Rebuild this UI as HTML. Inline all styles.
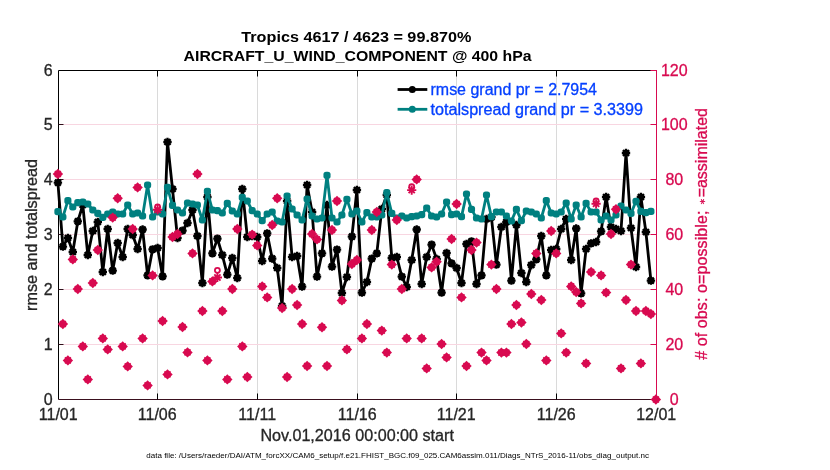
<!DOCTYPE html><html><head><meta charset="utf-8"><title>obs diag</title>
<style>html,body{margin:0;padding:0;background:#fff}svg{display:block}text{font-family:"Liberation Sans",Arial,Helvetica,sans-serif}.t{stroke:#262626;stroke-width:.3}.p{stroke:#d80a50;stroke-width:.3}.b{stroke:#0540ff;stroke-width:.3}</style></head><body>
<svg width="830" height="470" viewBox="0 0 830 470">
<rect width="830" height="470" fill="#fff"/>
<defs>
<g id="bs"><path d="M-4.2 0H4.2M0 -4.2V4.2M-3 -3L3 3M-3 3L3 -3" stroke="#000" stroke-width="2.3" fill="none"/><circle r="3.3" fill="#000"/></g>
<rect id="ts" x="-3.55" y="-3.55" width="7.1" height="7.1" rx="2.7" fill="#008080"/>
<circle id="po" r="2.5" fill="none" stroke="#d80a50" stroke-width="1.8"/>
<path id="px" d="M-4.6 0H4.6M0 -4.6V4.6M-3.1 -3.1L3.1 3.1M-3.1 3.1L3.1 -3.1" stroke="#d80a50" stroke-width="1.9" fill="none"/>
<g id="pd"><path d="M-5.2 0L0 -5.2L5.2 0L0 5.2Z" fill="#d80a50"/><path d="M-3 -3L3 3M-3 3L3 -3" stroke="#d80a50" stroke-width="1.5" fill="none"/></g>
</defs>
<line x1="157.5" y1="70.5" x2="157.5" y2="399.5" stroke="#dadada" stroke-width="1"/>
<line x1="257.5" y1="70.5" x2="257.5" y2="399.5" stroke="#dadada" stroke-width="1"/>
<line x1="357.5" y1="70.5" x2="357.5" y2="399.5" stroke="#dadada" stroke-width="1"/>
<line x1="456.5" y1="70.5" x2="456.5" y2="399.5" stroke="#dadada" stroke-width="1"/>
<line x1="556.5" y1="70.5" x2="556.5" y2="399.5" stroke="#dadada" stroke-width="1"/>
<line x1="58.5" y1="344.5" x2="656.5" y2="344.5" stroke="#f8d6e1" stroke-width="1"/>
<line x1="58.5" y1="289.5" x2="656.5" y2="289.5" stroke="#f8d6e1" stroke-width="1"/>
<line x1="58.5" y1="234.5" x2="656.5" y2="234.5" stroke="#f8d6e1" stroke-width="1"/>
<line x1="58.5" y1="179.5" x2="656.5" y2="179.5" stroke="#f8d6e1" stroke-width="1"/>
<line x1="58.5" y1="124.5" x2="656.5" y2="124.5" stroke="#f8d6e1" stroke-width="1"/>
<path d="M58.5 399.5V70.5H656.5" stroke="#000" stroke-width="1" fill="none"/>
<line x1="58.5" y1="399.5" x2="656.5" y2="399.5" stroke="#3a0f1e" stroke-width="1"/>
<line x1="157.5" y1="399.5" x2="157.5" y2="393.5" stroke="#000"/>
<line x1="157.5" y1="70.5" x2="157.5" y2="76.5" stroke="#000"/>
<line x1="257.5" y1="399.5" x2="257.5" y2="393.5" stroke="#000"/>
<line x1="257.5" y1="70.5" x2="257.5" y2="76.5" stroke="#000"/>
<line x1="357.5" y1="399.5" x2="357.5" y2="393.5" stroke="#000"/>
<line x1="357.5" y1="70.5" x2="357.5" y2="76.5" stroke="#000"/>
<line x1="456.5" y1="399.5" x2="456.5" y2="393.5" stroke="#000"/>
<line x1="456.5" y1="70.5" x2="456.5" y2="76.5" stroke="#000"/>
<line x1="556.5" y1="399.5" x2="556.5" y2="393.5" stroke="#000"/>
<line x1="556.5" y1="70.5" x2="556.5" y2="76.5" stroke="#000"/>
<line x1="58.5" y1="344.5" x2="63.5" y2="344.5" stroke="#30101a"/>
<line x1="58.5" y1="289.5" x2="63.5" y2="289.5" stroke="#30101a"/>
<line x1="58.5" y1="234.5" x2="63.5" y2="234.5" stroke="#30101a"/>
<line x1="58.5" y1="179.5" x2="63.5" y2="179.5" stroke="#30101a"/>
<line x1="58.5" y1="124.5" x2="63.5" y2="124.5" stroke="#30101a"/>
<polyline points="57.9,182.6 62.9,246.6 67.9,238.0 72.8,252.0 77.8,221.4 82.8,205.0 87.8,255.0 92.8,231.0 97.8,222.0 102.8,272.0 107.7,229.0 112.7,270.6 117.7,243.0 122.7,257.0 127.7,229.0 132.7,235.0 137.6,249.0 142.6,229.5 147.6,275.4 152.6,249.4 157.6,248.0 162.6,276.4 167.5,142.0 172.5,189.0 177.5,238.0 182.5,230.6 187.5,223.0 192.5,210.0 197.4,236.0 202.4,283.0 207.4,197.0 212.4,253.4 217.4,238.6 222.3,255.0 227.3,274.6 232.3,258.0 237.3,278.0 242.3,189.0 247.3,237.0 252.2,236.0 257.2,237.0 262.2,261.0 267.2,233.4 272.2,258.6 277.2,268.0 282.1,306.0 287.1,201.0 292.1,257.0 297.1,256.0 302.1,286.6 307.1,185.0 312.1,212.0 317.0,276.6 322.0,253.4 327.0,205.0 332.0,266.6 337.0,249.6 341.9,293.0 346.9,277.0 351.9,236.6 356.9,190.0 361.9,292.6 366.9,282.0 371.8,258.6 376.8,253.4 381.8,209.0 386.8,195.0 391.8,258.0 396.8,257.0 401.8,276.6 406.7,287.0 411.7,260.0 416.7,229.5 421.7,284.0 426.7,257.0 431.6,244.6 436.6,259.0 441.6,292.6 446.6,253.0 451.6,263.4 456.6,268.0 461.5,283.0 466.5,244.0 471.5,241.4 476.5,284.0 481.5,275.4 486.5,219.0 491.4,217.2 496.4,264.6 501.4,227.0 506.4,222.0 511.4,280.6 516.4,225.0 521.4,273.0 526.3,282.0 531.3,265.0 536.3,259.4 541.3,236.0 546.3,275.4 551.2,250.0 556.2,249.0 561.2,229.0 566.2,219.0 571.2,260.0 576.2,228.5 581.1,293.4 586.1,249.0 591.1,243.4 596.1,242.0 601.1,231.4 606.1,197.0 611.0,227.0 616.0,229.0 621.0,231.0 626.0,153.0 631.0,228.0 636.0,267.0 640.9,197.0 645.9,232.0 650.9,280.6" fill="none" stroke="#000" stroke-width="2.8" stroke-linejoin="round"/>
<use href="#bs" x="57.9" y="182.6"/>
<use href="#bs" x="62.9" y="246.6"/>
<use href="#bs" x="67.9" y="238.0"/>
<use href="#bs" x="72.8" y="252.0"/>
<use href="#bs" x="77.8" y="221.4"/>
<use href="#bs" x="82.8" y="205.0"/>
<use href="#bs" x="87.8" y="255.0"/>
<use href="#bs" x="92.8" y="231.0"/>
<use href="#bs" x="97.8" y="222.0"/>
<use href="#bs" x="102.8" y="272.0"/>
<use href="#bs" x="107.7" y="229.0"/>
<use href="#bs" x="112.7" y="270.6"/>
<use href="#bs" x="117.7" y="243.0"/>
<use href="#bs" x="122.7" y="257.0"/>
<use href="#bs" x="127.7" y="229.0"/>
<use href="#bs" x="132.7" y="235.0"/>
<use href="#bs" x="137.6" y="249.0"/>
<use href="#bs" x="142.6" y="229.5"/>
<use href="#bs" x="147.6" y="275.4"/>
<use href="#bs" x="152.6" y="249.4"/>
<use href="#bs" x="157.6" y="248.0"/>
<use href="#bs" x="162.6" y="276.4"/>
<use href="#bs" x="167.5" y="142.0"/>
<use href="#bs" x="172.5" y="189.0"/>
<use href="#bs" x="177.5" y="238.0"/>
<use href="#bs" x="182.5" y="230.6"/>
<use href="#bs" x="187.5" y="223.0"/>
<use href="#bs" x="192.5" y="210.0"/>
<use href="#bs" x="197.4" y="236.0"/>
<use href="#bs" x="202.4" y="283.0"/>
<use href="#bs" x="207.4" y="197.0"/>
<use href="#bs" x="212.4" y="253.4"/>
<use href="#bs" x="217.4" y="238.6"/>
<use href="#bs" x="222.3" y="255.0"/>
<use href="#bs" x="227.3" y="274.6"/>
<use href="#bs" x="232.3" y="258.0"/>
<use href="#bs" x="237.3" y="278.0"/>
<use href="#bs" x="242.3" y="189.0"/>
<use href="#bs" x="247.3" y="237.0"/>
<use href="#bs" x="252.2" y="236.0"/>
<use href="#bs" x="257.2" y="237.0"/>
<use href="#bs" x="262.2" y="261.0"/>
<use href="#bs" x="267.2" y="233.4"/>
<use href="#bs" x="272.2" y="258.6"/>
<use href="#bs" x="277.2" y="268.0"/>
<use href="#bs" x="282.1" y="306.0"/>
<use href="#bs" x="287.1" y="201.0"/>
<use href="#bs" x="292.1" y="257.0"/>
<use href="#bs" x="297.1" y="256.0"/>
<use href="#bs" x="302.1" y="286.6"/>
<use href="#bs" x="307.1" y="185.0"/>
<use href="#bs" x="312.1" y="212.0"/>
<use href="#bs" x="317.0" y="276.6"/>
<use href="#bs" x="322.0" y="253.4"/>
<use href="#bs" x="327.0" y="205.0"/>
<use href="#bs" x="332.0" y="266.6"/>
<use href="#bs" x="337.0" y="249.6"/>
<use href="#bs" x="341.9" y="293.0"/>
<use href="#bs" x="346.9" y="277.0"/>
<use href="#bs" x="351.9" y="236.6"/>
<use href="#bs" x="356.9" y="190.0"/>
<use href="#bs" x="361.9" y="292.6"/>
<use href="#bs" x="366.9" y="282.0"/>
<use href="#bs" x="371.8" y="258.6"/>
<use href="#bs" x="376.8" y="253.4"/>
<use href="#bs" x="381.8" y="209.0"/>
<use href="#bs" x="386.8" y="195.0"/>
<use href="#bs" x="391.8" y="258.0"/>
<use href="#bs" x="396.8" y="257.0"/>
<use href="#bs" x="401.8" y="276.6"/>
<use href="#bs" x="406.7" y="287.0"/>
<use href="#bs" x="411.7" y="260.0"/>
<use href="#bs" x="416.7" y="229.5"/>
<use href="#bs" x="421.7" y="284.0"/>
<use href="#bs" x="426.7" y="257.0"/>
<use href="#bs" x="431.6" y="244.6"/>
<use href="#bs" x="436.6" y="259.0"/>
<use href="#bs" x="441.6" y="292.6"/>
<use href="#bs" x="446.6" y="253.0"/>
<use href="#bs" x="451.6" y="263.4"/>
<use href="#bs" x="456.6" y="268.0"/>
<use href="#bs" x="461.5" y="283.0"/>
<use href="#bs" x="466.5" y="244.0"/>
<use href="#bs" x="471.5" y="241.4"/>
<use href="#bs" x="476.5" y="284.0"/>
<use href="#bs" x="481.5" y="275.4"/>
<use href="#bs" x="486.5" y="219.0"/>
<use href="#bs" x="491.4" y="217.2"/>
<use href="#bs" x="496.4" y="264.6"/>
<use href="#bs" x="501.4" y="227.0"/>
<use href="#bs" x="506.4" y="222.0"/>
<use href="#bs" x="511.4" y="280.6"/>
<use href="#bs" x="516.4" y="225.0"/>
<use href="#bs" x="521.4" y="273.0"/>
<use href="#bs" x="526.3" y="282.0"/>
<use href="#bs" x="531.3" y="265.0"/>
<use href="#bs" x="536.3" y="259.4"/>
<use href="#bs" x="541.3" y="236.0"/>
<use href="#bs" x="546.3" y="275.4"/>
<use href="#bs" x="551.2" y="250.0"/>
<use href="#bs" x="556.2" y="249.0"/>
<use href="#bs" x="561.2" y="229.0"/>
<use href="#bs" x="566.2" y="219.0"/>
<use href="#bs" x="571.2" y="260.0"/>
<use href="#bs" x="576.2" y="228.5"/>
<use href="#bs" x="581.1" y="293.4"/>
<use href="#bs" x="586.1" y="249.0"/>
<use href="#bs" x="591.1" y="243.4"/>
<use href="#bs" x="596.1" y="242.0"/>
<use href="#bs" x="601.1" y="231.4"/>
<use href="#bs" x="606.1" y="197.0"/>
<use href="#bs" x="611.0" y="227.0"/>
<use href="#bs" x="616.0" y="229.0"/>
<use href="#bs" x="621.0" y="231.0"/>
<use href="#bs" x="626.0" y="153.0"/>
<use href="#bs" x="631.0" y="228.0"/>
<use href="#bs" x="636.0" y="267.0"/>
<use href="#bs" x="640.9" y="197.0"/>
<use href="#bs" x="645.9" y="232.0"/>
<use href="#bs" x="650.9" y="280.6"/>
<polyline points="57.9,211.6 62.9,217.0 67.9,200.6 72.8,207.0 77.8,202.6 82.8,202.0 87.8,204.0 92.8,210.0 97.8,213.4 102.8,217.4 107.7,214.0 112.7,212.0 117.7,214.0 122.7,214.0 127.7,205.0 132.7,214.0 137.6,213.0 142.6,216.0 147.6,185.0 152.6,217.0 157.6,212.0 162.6,214.0 167.5,187.4 172.5,205.4 177.5,210.0 182.5,213.0 187.5,203.0 192.5,204.0 197.4,205.0 202.4,220.0 207.4,191.4 212.4,210.0 217.4,210.6 222.3,213.0 227.3,203.4 232.3,211.0 237.3,214.0 242.3,197.4 247.3,201.0 252.2,210.6 257.2,214.0 262.2,220.6 267.2,214.0 272.2,212.0 277.2,221.0 282.1,222.0 287.1,196.0 292.1,209.0 297.1,215.0 302.1,220.0 307.1,199.0 312.1,216.0 317.0,219.0 322.0,218.0 327.0,175.4 332.0,218.0 337.0,222.0 341.9,215.0 346.9,199.4 351.9,214.0 356.9,211.0 361.9,222.0 366.9,212.6 371.8,217.0 376.8,217.0 381.8,215.0 386.8,192.6 391.8,213.4 396.8,218.0 401.8,216.0 406.7,218.0 411.7,216.6 416.7,216.0 421.7,214.6 426.7,208.0 431.6,216.0 436.6,217.0 441.6,214.0 446.6,202.0 451.6,214.6 456.6,214.0 461.5,216.6 466.5,194.0 471.5,209.4 476.5,218.0 481.5,219.0 486.5,195.0 491.4,216.6 496.4,212.0 501.4,212.0 506.4,216.0 511.4,221.0 516.4,209.4 521.4,220.6 526.3,211.0 531.3,212.0 536.3,214.0 541.3,218.0 546.3,200.6 551.2,213.0 556.2,214.0 561.2,212.0 566.2,203.0 571.2,219.0 576.2,205.0 581.1,217.0 586.1,203.4 591.1,212.0 596.1,212.0 601.1,220.0 606.1,216.0 611.0,220.0 616.0,215.0 621.0,206.0 626.0,210.0 631.0,213.4 636.0,201.2 640.9,211.4 645.9,212.6 650.9,211.4" fill="none" stroke="#008080" stroke-width="2.8" stroke-linejoin="round"/>
<use href="#ts" x="57.9" y="211.6"/>
<use href="#ts" x="62.9" y="217.0"/>
<use href="#ts" x="67.9" y="200.6"/>
<use href="#ts" x="72.8" y="207.0"/>
<use href="#ts" x="77.8" y="202.6"/>
<use href="#ts" x="82.8" y="202.0"/>
<use href="#ts" x="87.8" y="204.0"/>
<use href="#ts" x="92.8" y="210.0"/>
<use href="#ts" x="97.8" y="213.4"/>
<use href="#ts" x="102.8" y="217.4"/>
<use href="#ts" x="107.7" y="214.0"/>
<use href="#ts" x="112.7" y="212.0"/>
<use href="#ts" x="117.7" y="214.0"/>
<use href="#ts" x="122.7" y="214.0"/>
<use href="#ts" x="127.7" y="205.0"/>
<use href="#ts" x="132.7" y="214.0"/>
<use href="#ts" x="137.6" y="213.0"/>
<use href="#ts" x="142.6" y="216.0"/>
<use href="#ts" x="147.6" y="185.0"/>
<use href="#ts" x="152.6" y="217.0"/>
<use href="#ts" x="157.6" y="212.0"/>
<use href="#ts" x="162.6" y="214.0"/>
<use href="#ts" x="167.5" y="187.4"/>
<use href="#ts" x="172.5" y="205.4"/>
<use href="#ts" x="177.5" y="210.0"/>
<use href="#ts" x="182.5" y="213.0"/>
<use href="#ts" x="187.5" y="203.0"/>
<use href="#ts" x="192.5" y="204.0"/>
<use href="#ts" x="197.4" y="205.0"/>
<use href="#ts" x="202.4" y="220.0"/>
<use href="#ts" x="207.4" y="191.4"/>
<use href="#ts" x="212.4" y="210.0"/>
<use href="#ts" x="217.4" y="210.6"/>
<use href="#ts" x="222.3" y="213.0"/>
<use href="#ts" x="227.3" y="203.4"/>
<use href="#ts" x="232.3" y="211.0"/>
<use href="#ts" x="237.3" y="214.0"/>
<use href="#ts" x="242.3" y="197.4"/>
<use href="#ts" x="247.3" y="201.0"/>
<use href="#ts" x="252.2" y="210.6"/>
<use href="#ts" x="257.2" y="214.0"/>
<use href="#ts" x="262.2" y="220.6"/>
<use href="#ts" x="267.2" y="214.0"/>
<use href="#ts" x="272.2" y="212.0"/>
<use href="#ts" x="277.2" y="221.0"/>
<use href="#ts" x="282.1" y="222.0"/>
<use href="#ts" x="287.1" y="196.0"/>
<use href="#ts" x="292.1" y="209.0"/>
<use href="#ts" x="297.1" y="215.0"/>
<use href="#ts" x="302.1" y="220.0"/>
<use href="#ts" x="307.1" y="199.0"/>
<use href="#ts" x="312.1" y="216.0"/>
<use href="#ts" x="317.0" y="219.0"/>
<use href="#ts" x="322.0" y="218.0"/>
<use href="#ts" x="327.0" y="175.4"/>
<use href="#ts" x="332.0" y="218.0"/>
<use href="#ts" x="337.0" y="222.0"/>
<use href="#ts" x="341.9" y="215.0"/>
<use href="#ts" x="346.9" y="199.4"/>
<use href="#ts" x="351.9" y="214.0"/>
<use href="#ts" x="356.9" y="211.0"/>
<use href="#ts" x="361.9" y="222.0"/>
<use href="#ts" x="366.9" y="212.6"/>
<use href="#ts" x="371.8" y="217.0"/>
<use href="#ts" x="376.8" y="217.0"/>
<use href="#ts" x="381.8" y="215.0"/>
<use href="#ts" x="386.8" y="192.6"/>
<use href="#ts" x="391.8" y="213.4"/>
<use href="#ts" x="396.8" y="218.0"/>
<use href="#ts" x="401.8" y="216.0"/>
<use href="#ts" x="406.7" y="218.0"/>
<use href="#ts" x="411.7" y="216.6"/>
<use href="#ts" x="416.7" y="216.0"/>
<use href="#ts" x="421.7" y="214.6"/>
<use href="#ts" x="426.7" y="208.0"/>
<use href="#ts" x="431.6" y="216.0"/>
<use href="#ts" x="436.6" y="217.0"/>
<use href="#ts" x="441.6" y="214.0"/>
<use href="#ts" x="446.6" y="202.0"/>
<use href="#ts" x="451.6" y="214.6"/>
<use href="#ts" x="456.6" y="214.0"/>
<use href="#ts" x="461.5" y="216.6"/>
<use href="#ts" x="466.5" y="194.0"/>
<use href="#ts" x="471.5" y="209.4"/>
<use href="#ts" x="476.5" y="218.0"/>
<use href="#ts" x="481.5" y="219.0"/>
<use href="#ts" x="486.5" y="195.0"/>
<use href="#ts" x="491.4" y="216.6"/>
<use href="#ts" x="496.4" y="212.0"/>
<use href="#ts" x="501.4" y="212.0"/>
<use href="#ts" x="506.4" y="216.0"/>
<use href="#ts" x="511.4" y="221.0"/>
<use href="#ts" x="516.4" y="209.4"/>
<use href="#ts" x="521.4" y="220.6"/>
<use href="#ts" x="526.3" y="211.0"/>
<use href="#ts" x="531.3" y="212.0"/>
<use href="#ts" x="536.3" y="214.0"/>
<use href="#ts" x="541.3" y="218.0"/>
<use href="#ts" x="546.3" y="200.6"/>
<use href="#ts" x="551.2" y="213.0"/>
<use href="#ts" x="556.2" y="214.0"/>
<use href="#ts" x="561.2" y="212.0"/>
<use href="#ts" x="566.2" y="203.0"/>
<use href="#ts" x="571.2" y="219.0"/>
<use href="#ts" x="576.2" y="205.0"/>
<use href="#ts" x="581.1" y="217.0"/>
<use href="#ts" x="586.1" y="203.4"/>
<use href="#ts" x="591.1" y="212.0"/>
<use href="#ts" x="596.1" y="212.0"/>
<use href="#ts" x="601.1" y="220.0"/>
<use href="#ts" x="606.1" y="216.0"/>
<use href="#ts" x="611.0" y="220.0"/>
<use href="#ts" x="616.0" y="215.0"/>
<use href="#ts" x="621.0" y="206.0"/>
<use href="#ts" x="626.0" y="210.0"/>
<use href="#ts" x="631.0" y="213.4"/>
<use href="#ts" x="636.0" y="201.2"/>
<use href="#ts" x="640.9" y="211.4"/>
<use href="#ts" x="645.9" y="212.6"/>
<use href="#ts" x="650.9" y="211.4"/>
<line x1="656.5" y1="70" x2="656.5" y2="400" stroke="#d80a50" stroke-width="1"/>
<line x1="656.5" y1="70.5" x2="650.5" y2="70.5" stroke="#d80a50"/>
<line x1="656.5" y1="344.5" x2="650.5" y2="344.5" stroke="#d80a50"/>
<line x1="656.5" y1="289.5" x2="650.5" y2="289.5" stroke="#d80a50"/>
<line x1="656.5" y1="234.5" x2="650.5" y2="234.5" stroke="#d80a50"/>
<line x1="656.5" y1="179.5" x2="650.5" y2="179.5" stroke="#d80a50"/>
<line x1="656.5" y1="124.5" x2="650.5" y2="124.5" stroke="#d80a50"/>
<line x1="656.5" y1="399.5" x2="650.5" y2="399.5" stroke="#d80a50"/>
<use href="#pd" x="57.9" y="174.0"/>
<use href="#pd" x="62.9" y="324.0"/>
<use href="#pd" x="67.9" y="360.4"/>
<use href="#pd" x="72.8" y="259.4"/>
<use href="#pd" x="77.8" y="289.0"/>
<use href="#pd" x="82.8" y="346.4"/>
<use href="#pd" x="87.8" y="379.4"/>
<use href="#pd" x="92.8" y="283.0"/>
<use href="#pd" x="97.8" y="250.0"/>
<use href="#pd" x="102.8" y="338.4"/>
<use href="#pd" x="107.7" y="349.4"/>
<use href="#pd" x="112.7" y="217.6"/>
<use href="#pd" x="117.7" y="198.2"/>
<use href="#pd" x="122.7" y="346.4"/>
<use href="#pd" x="127.7" y="366.4"/>
<use href="#pd" x="132.7" y="229.0"/>
<use href="#pd" x="137.6" y="187.4"/>
<use href="#pd" x="142.6" y="338.4"/>
<use href="#pd" x="147.6" y="385.4"/>
<use href="#pd" x="152.6" y="275.4"/>
<use href="#po" x="157.6" y="206.8"/>
<use href="#px" x="157.6" y="209.7"/>
<use href="#pd" x="162.6" y="321.0"/>
<use href="#pd" x="167.5" y="374.4"/>
<use href="#pd" x="172.5" y="237.0"/>
<use href="#pd" x="177.5" y="234.0"/>
<use href="#pd" x="182.5" y="327.0"/>
<use href="#pd" x="187.5" y="352.4"/>
<use href="#pd" x="192.5" y="253.4"/>
<use href="#pd" x="197.4" y="174.0"/>
<use href="#pd" x="202.4" y="311.0"/>
<use href="#pd" x="207.4" y="360.4"/>
<use href="#pd" x="212.4" y="281.4"/>
<use href="#po" x="217.4" y="270.3"/>
<use href="#px" x="217.4" y="277.5"/>
<use href="#pd" x="222.3" y="311.0"/>
<use href="#pd" x="227.3" y="379.4"/>
<use href="#pd" x="232.3" y="289.0"/>
<use href="#pd" x="237.3" y="229.0"/>
<use href="#pd" x="242.3" y="346.4"/>
<use href="#pd" x="247.3" y="377.0"/>
<use href="#pd" x="252.2" y="234.6"/>
<use href="#pd" x="257.2" y="245.4"/>
<use href="#pd" x="262.2" y="286.4"/>
<use href="#pd" x="267.2" y="297.4"/>
<use href="#pd" x="272.2" y="225.0"/>
<use href="#pd" x="277.2" y="198.2"/>
<use href="#pd" x="282.1" y="308.0"/>
<use href="#pd" x="287.1" y="377.0"/>
<use href="#pd" x="292.1" y="289.0"/>
<use href="#pd" x="297.1" y="305.0"/>
<use href="#pd" x="302.1" y="324.0"/>
<use href="#pd" x="307.1" y="366.0"/>
<use href="#pd" x="312.1" y="234.0"/>
<use href="#pd" x="317.0" y="239.4"/>
<use href="#pd" x="322.0" y="327.2"/>
<use href="#pd" x="327.0" y="366.0"/>
<use href="#pd" x="332.0" y="230.0"/>
<use href="#pd" x="337.0" y="201.0"/>
<use href="#pd" x="341.9" y="300.4"/>
<use href="#pd" x="346.9" y="349.4"/>
<use href="#pd" x="351.9" y="264.0"/>
<use href="#pd" x="356.9" y="260.0"/>
<use href="#pd" x="361.9" y="338.4"/>
<use href="#pd" x="366.9" y="324.0"/>
<use href="#pd" x="371.8" y="230.0"/>
<use href="#pd" x="376.8" y="212.0"/>
<use href="#pd" x="381.8" y="330.6"/>
<use href="#pd" x="386.8" y="352.6"/>
<use href="#pd" x="391.8" y="264.6"/>
<use href="#pd" x="396.8" y="220.0"/>
<use href="#pd" x="401.8" y="289.0"/>
<use href="#pd" x="406.7" y="338.4"/>
<use href="#po" x="411.7" y="186.7"/>
<use href="#px" x="411.7" y="190.1"/>
<use href="#pd" x="416.7" y="179.4"/>
<use href="#pd" x="421.7" y="338.4"/>
<use href="#pd" x="426.7" y="368.4"/>
<use href="#pd" x="431.6" y="267.4"/>
<use href="#pd" x="436.6" y="261.8"/>
<use href="#pd" x="441.6" y="344.0"/>
<use href="#pd" x="446.6" y="357.4"/>
<use href="#pd" x="451.6" y="239.0"/>
<use href="#pd" x="456.6" y="204.0"/>
<use href="#pd" x="461.5" y="297.4"/>
<use href="#pd" x="466.5" y="366.0"/>
<use href="#pd" x="471.5" y="250.0"/>
<use href="#pd" x="476.5" y="242.6"/>
<use href="#pd" x="481.5" y="352.6"/>
<use href="#pd" x="486.5" y="360.4"/>
<use href="#pd" x="491.4" y="264.6"/>
<use href="#pd" x="496.4" y="289.0"/>
<use href="#pd" x="501.4" y="352.6"/>
<use href="#pd" x="506.4" y="352.6"/>
<use href="#pd" x="511.4" y="324.0"/>
<use href="#pd" x="516.4" y="305.0"/>
<use href="#pd" x="521.4" y="322.5"/>
<use href="#pd" x="526.3" y="344.0"/>
<use href="#pd" x="531.3" y="294.0"/>
<use href="#pd" x="536.3" y="253.4"/>
<use href="#pd" x="541.3" y="300.0"/>
<use href="#pd" x="546.3" y="360.4"/>
<use href="#pd" x="551.2" y="231.0"/>
<use href="#pd" x="556.2" y="253.4"/>
<use href="#pd" x="561.2" y="333.4"/>
<use href="#pd" x="566.2" y="352.6"/>
<use href="#pd" x="571.2" y="286.4"/>
<use href="#pd" x="576.2" y="292.0"/>
<use href="#pd" x="581.1" y="303.4"/>
<use href="#pd" x="586.1" y="363.4"/>
<use href="#pd" x="591.1" y="272.0"/>
<use href="#po" x="596.1" y="200.8"/>
<use href="#px" x="596.1" y="203.8"/>
<use href="#pd" x="601.1" y="275.4"/>
<use href="#pd" x="606.1" y="292.6"/>
<use href="#pd" x="611.0" y="234.0"/>
<use href="#pd" x="616.0" y="209.2"/>
<use href="#pd" x="621.0" y="368.4"/>
<use href="#pd" x="626.0" y="300.0"/>
<use href="#pd" x="631.0" y="264.6"/>
<use href="#pd" x="636.0" y="311.0"/>
<use href="#pd" x="640.9" y="363.4"/>
<use href="#pd" x="645.9" y="311.0"/>
<use href="#pd" x="650.9" y="314.0"/>
<use href="#pd" x="655.9" y="399.5"/>
<line x1="397.6" y1="89.5" x2="427.3" y2="89.5" stroke="#000" stroke-width="2.8"/><circle cx="412.3" cy="89.5" r="3.5" fill="#000"/>
<line x1="397.6" y1="109.3" x2="427.3" y2="109.3" stroke="#008080" stroke-width="2.8"/><circle cx="412.3" cy="109.3" r="3.5" fill="#008080"/>
<text class="b" x="430.5" y="95.3" font-size="16" fill="#0540ff" textLength="166.5" lengthAdjust="spacingAndGlyphs">rmse grand pr = 2.7954</text>
<text class="b" x="430.5" y="114.8" font-size="16" fill="#0540ff" textLength="212.5" lengthAdjust="spacingAndGlyphs">totalspread grand pr = 3.3399</text>
<text x="356.3" y="41.6" font-size="15.5" font-weight="bold" fill="#000" text-anchor="middle" textLength="230" lengthAdjust="spacingAndGlyphs">Tropics 4617 / 4623 = 99.870%</text>
<text x="357.6" y="61.1" font-size="15.5" font-weight="bold" fill="#000" text-anchor="middle" textLength="348" lengthAdjust="spacingAndGlyphs">AIRCRAFT_U_WIND_COMPONENT @ 400 hPa</text>
<text class="t" x="52.6" y="405.1" font-size="16" fill="#262626" text-anchor="end">0</text>
<text class="t" x="52.6" y="350.1" font-size="16" fill="#262626" text-anchor="end">1</text>
<text class="t" x="52.6" y="295.1" font-size="16" fill="#262626" text-anchor="end">2</text>
<text class="t" x="52.6" y="240.1" font-size="16" fill="#262626" text-anchor="end">3</text>
<text class="t" x="52.6" y="185.1" font-size="16" fill="#262626" text-anchor="end">4</text>
<text class="t" x="52.6" y="130.1" font-size="16" fill="#262626" text-anchor="end">5</text>
<text class="t" x="52.6" y="76.1" font-size="16" fill="#262626" text-anchor="end">6</text>
<text class="p" x="674.3" y="405.1" font-size="16" fill="#d80a50" text-anchor="middle">0</text>
<text class="p" x="674.3" y="350.1" font-size="16" fill="#d80a50" text-anchor="middle">20</text>
<text class="p" x="674.3" y="295.1" font-size="16" fill="#d80a50" text-anchor="middle">40</text>
<text class="p" x="674.3" y="240.1" font-size="16" fill="#d80a50" text-anchor="middle">60</text>
<text class="p" x="674.3" y="185.1" font-size="16" fill="#d80a50" text-anchor="middle">80</text>
<text class="p" x="674.3" y="130.1" font-size="16" fill="#d80a50" text-anchor="middle">100</text>
<text class="p" x="674.3" y="76.1" font-size="16" fill="#d80a50" text-anchor="middle">120</text>
<text class="t" x="58.2" y="420" font-size="16" fill="#262626" text-anchor="middle">11/01</text>
<text class="t" x="157.2" y="420" font-size="16" fill="#262626" text-anchor="middle">11/06</text>
<text class="t" x="257.2" y="420" font-size="16" fill="#262626" text-anchor="middle">11/11</text>
<text class="t" x="357.2" y="420" font-size="16" fill="#262626" text-anchor="middle">11/16</text>
<text class="t" x="456.2" y="420" font-size="16" fill="#262626" text-anchor="middle">11/21</text>
<text class="t" x="556.2" y="420" font-size="16" fill="#262626" text-anchor="middle">11/26</text>
<text class="t" x="656.2" y="420" font-size="16" fill="#262626" text-anchor="middle">12/01</text>
<text class="t" x="357.2" y="440.5" font-size="16" fill="#262626" text-anchor="middle" textLength="193.5" lengthAdjust="spacingAndGlyphs">Nov.01,2016 00:00:00 start</text>
<text class="t" transform="translate(37,234.9) rotate(-90)" font-size="16" fill="#262626" text-anchor="middle" textLength="152" lengthAdjust="spacingAndGlyphs">rmse and totalspread</text>
<text class="p" transform="translate(707.1,233.9) rotate(-90)" font-size="16" fill="#d80a50" text-anchor="middle"><tspan letter-spacing="0.1"># of obs: o=possible; </tspan><tspan font-size="8" dy="-2.6" dx="0.8">&#8727;</tspan><tspan dy="2.6" dx="0.8">=assimilated</tspan></text>
<text x="146.3" y="458.2" font-size="8" fill="#000" textLength="502.7" lengthAdjust="spacingAndGlyphs">data file: /Users/raeder/DAI/ATM_forcXX/CAM6_setup/f.e21.FHIST_BGC.f09_025.CAM6assim.011/Diags_NTrS_2016-11/obs_diag_output.nc</text>
</svg></body></html>
